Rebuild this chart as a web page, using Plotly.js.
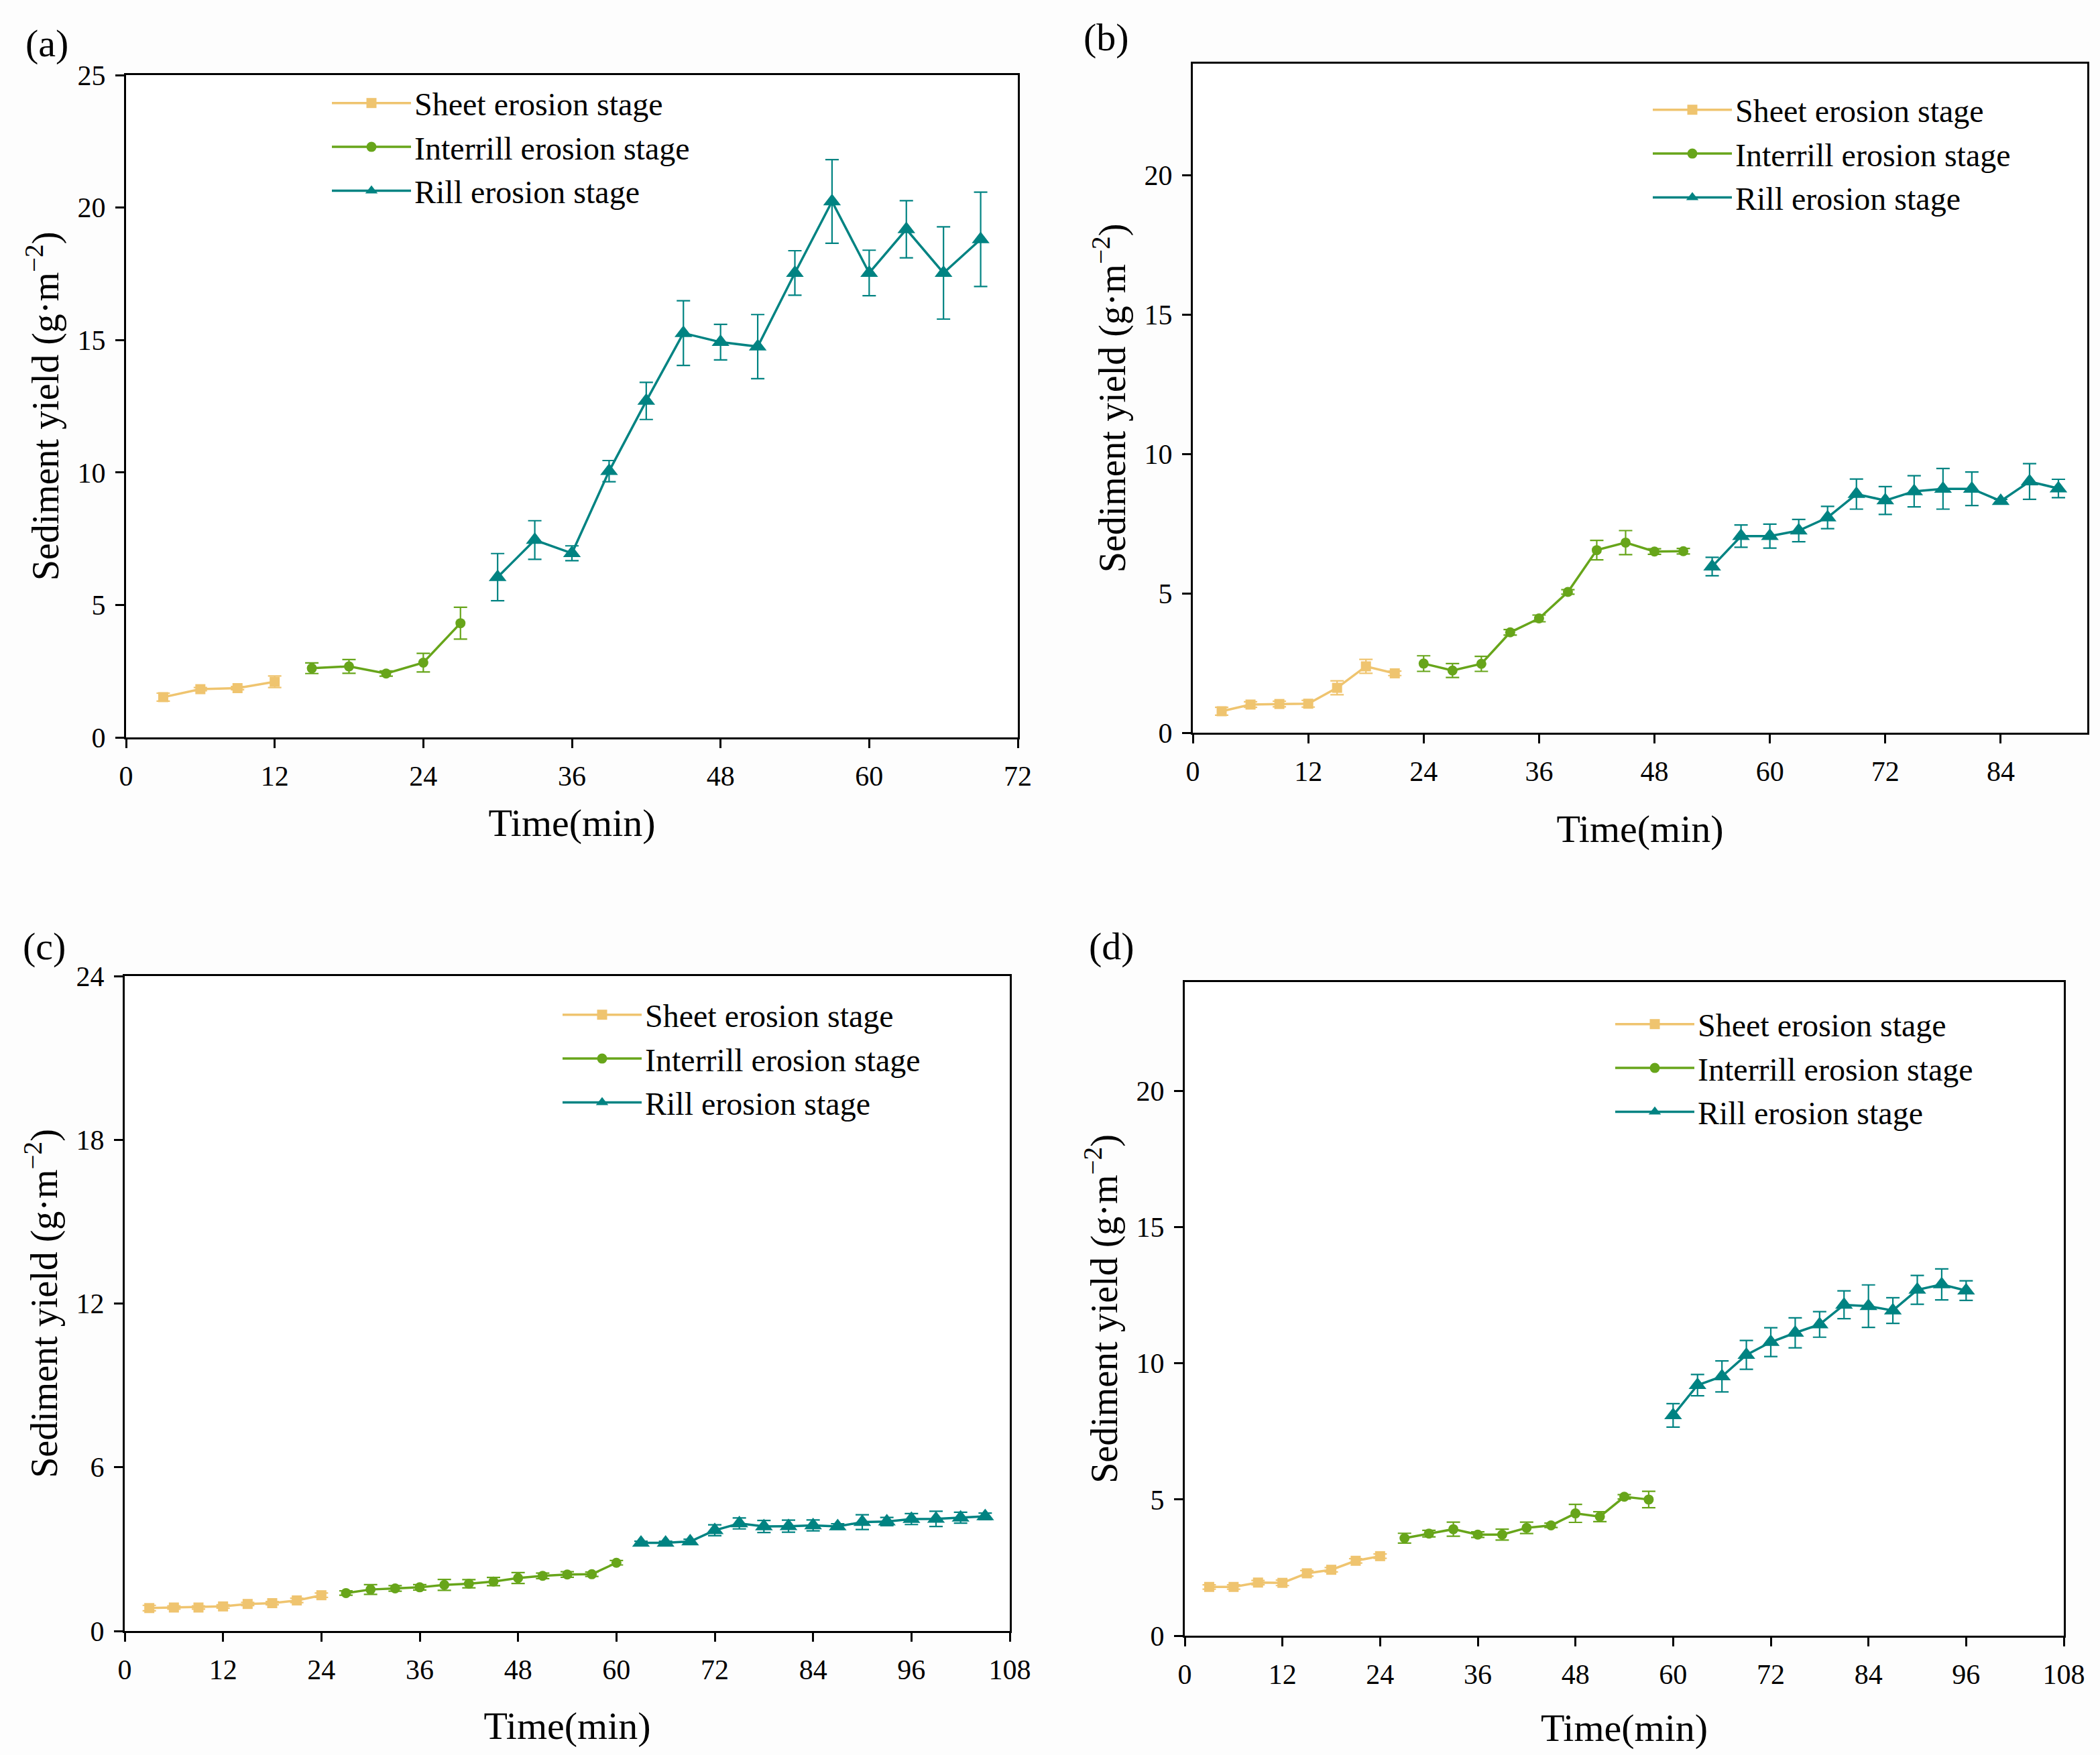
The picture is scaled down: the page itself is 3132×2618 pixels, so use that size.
<!DOCTYPE html>
<html><head><meta charset="utf-8">
<script src="https://cdn.plot.ly/plotly-3.0.1.min.js"></script>
<style>html,body{margin:0;padding:0;background:#ffffff}</style>
</head><body>
<div id="chart" style="width:3132px;height:2618px"></div>
<script>
// ---------------- data ----------------
const seriesNames = ['Sheet erosion stage', 'Interrill erosion stage', 'Rill erosion stage'];
const panelLabels = ['(a)', '(b)', '(c)', '(d)'];

// Panel (a)
const aSheetX = [3, 6, 9, 12];
const aSheetY = [1.52, 1.82, 1.86, 2.10];
const aSheetE = [0.15, 0.06, 0.06, 0.22];
const aInterX = [15, 18, 21, 24, 27];
const aInterY = [2.61, 2.68, 2.41, 2.82, 4.31];
const aInterE = [0.20, 0.26, 0.10, 0.35, 0.60];
const aRillX = [30, 33, 36, 39, 42, 45, 48, 51, 54, 57, 60, 63, 66, 69];
const aRillY = [6.05, 7.45, 6.95, 10.05, 12.70, 15.26, 14.92, 14.75, 17.53, 20.23, 17.53, 19.18, 17.53, 18.80];
const aRillE = [0.89, 0.73, 0.28, 0.40, 0.70, 1.22, 0.67, 1.21, 0.84, 1.58, 0.86, 1.08, 1.74, 1.78];

// Panel (b)
const bSheetX = [3, 6, 9, 12, 15, 18, 21];
const bSheetY = [0.77, 1.01, 1.03, 1.04, 1.61, 2.38, 2.13];
const bSheetE = [0.14, 0.10, 0.10, 0.12, 0.25, 0.25, 0.08];
const bInterX = [24, 27, 30, 33, 36, 39, 42, 45, 48, 51];
const bInterY = [2.48, 2.23, 2.47, 3.60, 4.10, 5.05, 6.55, 6.82, 6.50, 6.51];
const bInterE = [0.28, 0.25, 0.27, 0.10, 0.12, 0.08, 0.35, 0.43, 0.10, 0.10];
const bRillX = [54, 57, 60, 63, 66, 69, 72, 75, 78, 81, 84, 87, 90];
const bRillY = [5.96, 7.05, 7.05, 7.25, 7.72, 8.56, 8.33, 8.66, 8.75, 8.75, 8.31, 9.01, 8.76];
const bRillE = [0.33, 0.40, 0.43, 0.40, 0.40, 0.54, 0.50, 0.56, 0.73, 0.60, 0.06, 0.64, 0.33];

// Panel (c)
const cSheetX = [3, 6, 9, 12, 15, 18, 21, 24];
const cSheetY = [0.84, 0.86, 0.86, 0.90, 0.99, 1.02, 1.12, 1.31];
const cSheetE = [0.10, 0.06, 0.06, 0.06, 0.06, 0.06, 0.08, 0.08];
const cInterX = [27, 30, 33, 36, 39, 42, 45, 48, 51, 54, 57, 60];
const cInterY = [1.39, 1.52, 1.56, 1.60, 1.69, 1.73, 1.81, 1.94, 2.02, 2.07, 2.08, 2.50];
const cInterE = [0.08, 0.18, 0.10, 0.10, 0.20, 0.15, 0.15, 0.20, 0.10, 0.10, 0.08, 0.08];
const cRillX = [63, 66, 69, 72, 75, 78, 81, 84, 87, 90, 93, 96, 99, 102, 105];
const cRillY = [3.23, 3.23, 3.28, 3.69, 3.94, 3.83, 3.84, 3.87, 3.83, 3.99, 4.01, 4.10, 4.11, 4.15, 4.20];
const cRillE = [0.06, 0.06, 0.08, 0.20, 0.20, 0.22, 0.22, 0.20, 0.10, 0.27, 0.15, 0.20, 0.28, 0.20, 0.12];

// Panel (d)
const dSheetX = [3, 6, 9, 12, 15, 18, 21, 24];
const dSheetY = [1.79, 1.79, 1.95, 1.94, 2.29, 2.42, 2.75, 2.92];
const dSheetE = [0.08, 0.08, 0.08, 0.10, 0.10, 0.08, 0.08, 0.08];
const dInterX = [27, 30, 33, 36, 39, 42, 45, 48, 51, 54, 57];
const dInterY = [3.58, 3.75, 3.91, 3.71, 3.71, 3.96, 4.05, 4.49, 4.37, 5.10, 5.00];
const dInterE = [0.18, 0.12, 0.26, 0.10, 0.20, 0.21, 0.08, 0.33, 0.18, 0.08, 0.30];
const dRillX = [60, 63, 66, 69, 72, 75, 78, 81, 84, 87, 90, 93, 96];
const dRillY = [8.09, 9.20, 9.52, 10.31, 10.78, 11.12, 11.43, 12.15, 12.10, 11.94, 12.70, 12.90, 12.67];
const dRillE = [0.43, 0.39, 0.57, 0.53, 0.53, 0.55, 0.47, 0.51, 0.78, 0.47, 0.53, 0.57, 0.36];

// axis settings per panel
const xRanges = [[0, 72], [0, 93], [0, 108], [0, 108]];
const yRanges = [[0, 25], [0, 24], [0, 24], [0, 24]];
const yDticks = [5, 5, 6, 5];
const xDtick = 12;

// ---------------- layout / style ----------------
const W = 3132, H = 2618;
const px = v => v / W;
const py = v => 1 - v / H;
const FONT = 'Liberation Serif';
const colors = ['#EFC46F', '#67A51A', '#008382'];
const symbols = ['square', 'circle', 'triangle-up'];
const msizes = [15, 15, 23];

// plot boxes in pixels: [left, top, right, bottom]
const boxes = [
  [188, 112, 1518, 1100],
  [1779, 95, 3113, 1093],
  [186, 1456, 1506, 2433],
  [1767, 1465, 3078, 2440]
];
const legendPos = [[490, 116], [2460, 126], [834, 1476], [2404, 1490]];
const labelPos = [[70, 64], [1650, 56], [66, 1412], [1658, 1412]];
const xTitleStandoff = [26, 42, 40, 36];

const panelData = [
  [[aSheetX, aSheetY, aSheetE], [aInterX, aInterY, aInterE], [aRillX, aRillY, aRillE]],
  [[bSheetX, bSheetY, bSheetE], [bInterX, bInterY, bInterE], [bRillX, bRillY, bRillE]],
  [[cSheetX, cSheetY, cSheetE], [cInterX, cInterY, cInterE], [cRillX, cRillY, cRillE]],
  [[dSheetX, dSheetY, dSheetE], [dInterX, dInterY, dInterE], [dRillX, dRillY, dRillE]]
];

const traces = [];
const layout = {
  width: W, height: H, autosize: false,
  margin: {l: 0, r: 0, t: 0, b: 0, pad: 0},
  paper_bgcolor: '#fdfdfd',
  plot_bgcolor: '#ffffff',
  font: {family: FONT, color: '#000'},
  annotations: [],
  showlegend: true
};

panelData.forEach((series, p) => {
  const n = p + 1;
  const xa = n === 1 ? 'x' : 'x' + n;
  const ya = n === 1 ? 'y' : 'y' + n;
  const lg = n === 1 ? 'legend' : 'legend' + n;
  series.forEach((s, k) => {
    traces.push({
      type: 'scatter', mode: 'lines+markers',
      x: s[0], y: s[1],
      error_y: {type: 'data', array: s[2], visible: true, color: colors[k], thickness: 2.2, width: 10},
      name: seriesNames[k],
      xaxis: xa, yaxis: ya, legend: lg,
      line: {color: colors[k], width: 3.5},
      marker: {symbol: symbols[k], size: msizes[k], color: colors[k]},
      cliponaxis: false
    });
  });
  const b = boxes[p];
  const axBase = {
    showline: true, linecolor: '#000', linewidth: 3, mirror: true,
    ticks: 'outside', ticklen: 13, tickwidth: 3, tickcolor: '#000',
    showgrid: false, zeroline: false,
    tickfont: {family: FONT, size: 42, color: '#000'}
  };
  layout['xaxis' + (n === 1 ? '' : n)] = Object.assign({}, axBase, {
    domain: [px(b[0]), px(b[2])], anchor: ya,
    range: xRanges[p], tick0: 0, dtick: xDtick,
    ticklabelstandoff: 6,
    title: {text: 'Time(min)', font: {family: FONT, size: 58, color: '#000'}, standoff: xTitleStandoff[p]}
  });
  layout['yaxis' + (n === 1 ? '' : n)] = Object.assign({}, axBase, {
    domain: [py(b[3]), py(b[1])], anchor: xa,
    range: yRanges[p], tick0: 0, dtick: yDticks[p],
    ticklabelstandoff: 6,
    title: {text: 'Sediment yield (g·m<sup>−2</sup>)', font: {family: FONT, size: 56, color: '#000'}, standoff: 10}
  });
  layout[lg] = {
    x: px(legendPos[p][0]), y: py(legendPos[p][1]), xanchor: 'left', yanchor: 'top',
    xref: 'paper', yref: 'paper',
    bgcolor: 'rgba(0,0,0,0)', borderwidth: 0,
    font: {family: FONT, size: 48, color: '#000'},
    itemwidth: 118, tracegroupgap: 0
  };
  layout.annotations.push({
    text: panelLabels[p], xref: 'paper', yref: 'paper',
    x: px(labelPos[p][0]), y: py(labelPos[p][1]), xanchor: 'center', yanchor: 'middle',
    showarrow: false, font: {family: FONT, size: 58, color: '#000'}
  });
});

Plotly.newPlot('chart', traces, layout, {staticPlot: true, displayModeBar: false});
</script>
</body></html>
